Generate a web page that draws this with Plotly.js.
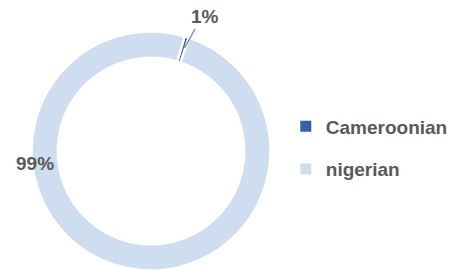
<!DOCTYPE html>
<html>
<head>
<meta charset="utf-8">
<script src="https://cdn.plot.ly/plotly-3.0.1.min.js"></script>
<style>html,body{margin:0;padding:0;background:#fff;}#chart{width:453px;height:278px;}</style>
</head>
<body>
<div id="chart"></div>
<script>
var categories = ["Cameroonian", "nigerian"];
var values = [0.6, 99.4];
var colors = ["#3A5FAA", "#CFDDF0"];

var total = values.reduce(function(a, b) { return a + b; }, 0);
var pctText = values.map(function(v) { return Math.round(v / total * 100) + "%"; });

var font = {family: "Liberation Sans, Arial, sans-serif", size: 19, color: "#595959"};

var traces = [{
  type: "pie",
  labels: categories,
  values: values,
  sort: false,
  direction: "clockwise",
  rotation: 16.3,
  hole: 0.78,
  marker: {colors: colors, line: {color: "#ffffff", width: 2.5}},
  textinfo: "none",
  showlegend: false,
  domain: {x: [0.07285, 0.62472], y: [0.00719, 0.90647]}
}];

categories.forEach(function(c, i) {
  traces.push({
    type: "scatter",
    mode: "markers",
    x: [null], y: [null],
    name: "<b>" + c + "</b>",
    legendgroup: "g" + i,
    marker: {symbol: "square", size: 11, color: colors[i]},
    showlegend: true,
    hoverinfo: "skip"
  });
});

var layout = {
  width: 453, height: 278,
  margin: {l: 0, r: 0, t: 0, b: 0},
  paper_bgcolor: "#ffffff",
  plot_bgcolor: "#ffffff",
  xaxis: {visible: false},
  yaxis: {visible: false},
  showlegend: true,
  legend: {
    x: 0.66, y: 1 - 148 / 278, xanchor: "left", yanchor: "middle",
    font: font, tracegroupgap: 15, itemclick: false,
    bgcolor: "rgba(0,0,0,0)"
  },
  shapes: [
    {
      type: "line", xref: "paper", yref: "paper",
      x0: 193 / 453, y0: 1 - 48 / 278,
      x1: 204 / 453, y1: 1 - 29 / 278,
      line: {color: "#8c8c8c", width: 1.5}
    }
  ],
  annotations: [
    {
      xref: "paper", yref: "paper",
      x: 214.5 / 453, y: 1 - 17 / 278,
      xanchor: "center", yanchor: "middle",
      text: "<b>" + pctText[0] + "</b>",
      showarrow: false,
      font: font
    },
    {
      xref: "paper", yref: "paper",
      x: 37 / 453, y: 1 - 163 / 278,
      xanchor: "center", yanchor: "middle",
      text: "<b>" + pctText[1] + "</b>",
      showarrow: false,
      font: font
    }
  ]
};

Plotly.newPlot("chart", traces, layout, {displayModeBar: false, staticPlot: true});
</script>
</body>
</html>
